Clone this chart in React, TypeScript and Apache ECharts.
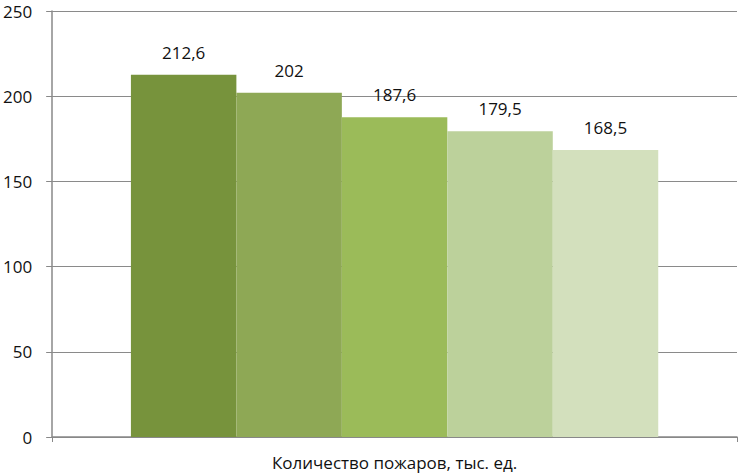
import React, { useEffect, useRef } from "react";
import * as echarts from "echarts";

const categories = ["Количество пожаров, тыс. ед."];
const values = [212.6, 202, 187.6, 179.5, 168.5];
const labels = ["212,6", "202", "187,6", "179,5", "168,5"];
const colors = ["#77933C", "#8EA855", "#9BBB59", "#BCD19B", "#D3E0BD"];
const yTicks = { min: 0, max: 250, interval: 50 };

export default function App() {
  const ref = useRef<HTMLDivElement>(null);
  useEffect(() => {
    const chart = echarts.init(ref.current!, null, { renderer: "svg" });
    const font = "Open Sans, Noto Sans, sans-serif";
    chart.setOption({
      animation: false,
      grid: { left: 50, right: 2, top: 11, bottom: 37, containLabel: false },
      xAxis: {
        type: "category",
        data: categories,
        axisLine: { lineStyle: { color: "#888", width: 1.5 } },
        axisTick: { show: true, length: 5, lineStyle: { color: "#888" } },
        axisLabel: { color: "#111", fontSize: 17, fontFamily: font, margin: 17 },
      },
      yAxis: {
        type: "value",
        min: yTicks.min,
        max: yTicks.max,
        interval: yTicks.interval,
        axisLine: { show: true, lineStyle: { color: "#888", width: 1.5 } },
        axisTick: { show: true, length: 6, lineStyle: { color: "#888" } },
        splitLine: { show: true, lineStyle: { color: "#8a8a8a", width: 1 } },
        axisLabel: {
          color: "#111",
          fontSize: 17,
          fontFamily: font,
          margin: 20,
        },
      },
      series: values.map((v, i) => ({
        type: "bar",
        data: [v],
        barGap: "0%",
        barCategoryGap: "23%",
        itemStyle: { color: colors[i] },
        label: {
          show: true,
          position: "top",
          distance: 14,
          formatter: () => labels[i],
          color: "#111",
          fontSize: 17,
          fontFamily: font,
        },
      })),
    });
    return () => chart.dispose();
  }, []);
  return (
    <div
      ref={ref}
      style={{ position: "absolute", left: 0, top: 0, width: 739, height: 474 }}
    />
  );
}
